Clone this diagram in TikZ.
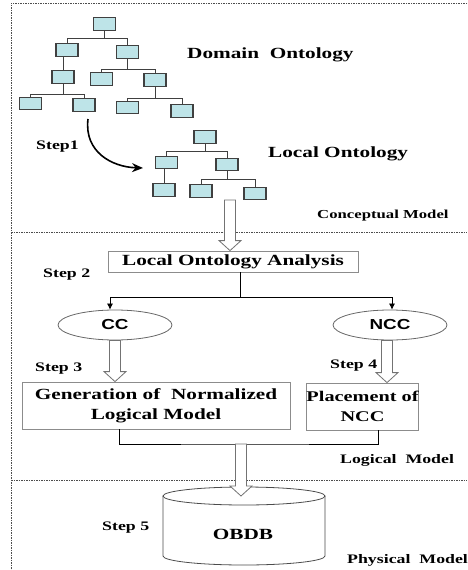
\documentclass[tikz,border=0pt]{standalone}
\usepackage{fontspec}
\setmainfont{Liberation Serif}[FakeStretch=1.37]
\newfontfamily\clsfont{Liberation Sans}[FakeStretch=1.3]
\usetikzlibrary{arrows.meta,positioning,calc,shapes.geometric}

\definecolor{ontofill}{RGB}{190,228,232}
\newcommand{\boxsz}{\fontsize{15.5}{20}\selectfont\bfseries}
\newcommand{\labsz}{\fontsize{13}{15}\selectfont\bfseries}

% hollow block arrow, straight down from #1 to the height of #2
\newcommand{\fatarrow}[2]{%
  \draw[hollow] let \p1=(#1), \p2=(#2) in
    (\x1-5.5pt,\y1) -- (\x1+5.5pt,\y1) -- (\x1+5.5pt,\y2+10pt) -- (\x1+11pt,\y2+10pt)
    -- (\x1,\y2) -- (\x1-11pt,\y2+10pt) -- (\x1-5.5pt,\y2+10pt) -- cycle;}

\begin{document}
\begin{tikzpicture}[
  x=1pt, y=-1pt,
  onto/.style={draw=black!75,line width=1.2pt,fill=ontofill,minimum width=22pt,minimum height=12.5pt,inner sep=0pt},
  tree/.style={draw=black!75,line width=0.7pt},
  frame/.style={draw=black!70,line width=0.6pt,dash pattern=on 1.5pt off 1pt},
  stepbox/.style={draw=black!45,line width=0.8pt,fill=white,align=center,font=\boxsz,inner sep=0pt},
  cls/.style={draw=black!60,line width=0.8pt,ellipse,minimum width=114pt,minimum height=30pt,inner sep=0pt,font=\clsfont\fontsize{14.5}{16}\selectfont\bfseries},
  lbl/.style={font=\labsz,anchor=base west,inner sep=0pt},
  title/.style={font=\boxsz,anchor=base west,inner sep=0pt},
  hollow/.style={draw=black!55,line width=0.8pt,fill=white},
  arr/.style={-{Latex[length=6pt,width=6pt]},line width=0.7pt},
  curv/.style={-{Stealth[length=11pt,width=9pt]},line width=1.6pt}
]
  \useasboundingbox (0,0) rectangle (467,570);

  % dotted frame and model separators
  \draw[frame] (467,3) -- (11,3) -- (11,570);
  \draw[frame] (11,232) -- (467,232);
  \draw[frame] (11,480) -- (467,480);

  % domain ontology tree
  \node[onto] (d0) at (104.5,24) {};
  \node[onto] (d1) at (67,50) {};
  \node[onto] (d2) at (127.5,52) {};
  \node[onto] (d11) at (63,77) {};
  \node[onto] (d21) at (101.5,79) {};
  \node[onto] (d22) at (155,80) {};
  \node[onto] (d111) at (30.5,103.5) {};
  \node[onto] (d112) at (84,105) {};
  \node[onto] (d221) at (127.5,107.5) {};
  \node[onto] (d222) at (182,111) {};
  \draw[tree] (d0.south) -- ++(0,7.5) -| (d1.north);
  \draw[tree] (d0.south) -- ++(0,7.5) -| (d2.north);
  \draw[tree] (d11.north) -- (d11.north |- d1.south);
  \draw[tree] (d2.south) -- ++(0,10) -| (d21.north);
  \draw[tree] (d2.south) -- ++(0,10) -| (d22.north);
  \draw[tree] (d11.south) -- ++(0,10) -| (d111.north);
  \draw[tree] (d11.south) -- ++(0,10) -| (d112.north);
  \draw[tree] (d22.south) -- ++(0,11) -| (d221.north);
  \draw[tree] (d22.south) -- ++(0,11) -| (d222.north);
  \node[title] (domain) at (187,58) {Domain\ \ Ontology};

  % local ontology tree
  \node[onto] (l0) at (205,137) {};
  \node[onto] (l1) at (166.5,162.5) {};
  \node[onto] (l2) at (227,164.5) {};
  \node[onto] (l11) at (164,190) {};
  \node[onto] (l21) at (201,191) {};
  \node[onto] (l22) at (255,193.5) {};
  \draw[tree] (l0.south) -- ++(0,7) -| (l1.north);
  \draw[tree] (l0.south) -- ++(0,7) -| (l2.north);
  \draw[tree] (l11.north) -- (l11.north |- l1.south);
  \draw[tree] (l2.south) -- ++(0,8) -| (l21.north);
  \draw[tree] (l2.south) -- ++(0,8) -| (l22.north);
  \node[title] (local) at (268,157) {Local Ontology};

  % step 1
  \coordinate (s1a) at (88,119);
  \coordinate (s1b) at (143,168);
  \draw[curv] (s1a) .. controls (84,152) and (112,167) .. (s1b);
  \node[lbl] (step1) at (36,149) {Step1};
  \node[lbl,font=\fontsize{12.2}{14}\selectfont\bfseries] (concept) at (317,218) {Conceptual Model};

  % logical model
  \node[stepbox,minimum width=250pt,minimum height=21pt] (ana) at (233,261.5) {Local Ontology Analysis};
  \node[lbl] (step2) at (43,277) {Step 2};
  \coordinate (h1) at (230,200);
  \fatarrow{h1}{ana.north}

  \node[cls] (cc) at (115,325) {CC};
  \node[cls] (ncc) at (390,325) {NCC};
  \draw[line width=0.7pt] ([xshift=7pt]ana.south) -- ++(0,25) coordinate (split);
  \draw[arr] (split) -| ([xshift=-5pt]cc.north);
  \draw[arr] (split) -| ([xshift=2pt]ncc.north);

  \node[stepbox,minimum width=268pt,minimum height=47pt] (gen) at (156,405.5) {Generation of\ \ Normalized\\Logical Model};
  \node[stepbox,minimum width=109pt,minimum height=47pt,font=\fontsize{14.8}{20}\selectfont\bfseries] (place) at (362.5,406.5) {Placement of\\NCC};
  \fatarrow{cc.south}{gen.north}
  \fatarrow{[xshift=-3pt]ncc.south}{place.north}
  \node[lbl] (step3) at (35,371) {Step 3};
  \node[lbl] (step4) at (330,368) {Step 4};

  \coordinate (join) at (241,444);
  \draw[line width=0.7pt] ([xshift=-37pt]gen.south) |- (join) -| ([xshift=15.5pt]place.south);
  \node[lbl] (logical) at (340,463) {Logical\ \ Model};

  % physical model
  \coordinate (dbtop) at (244,496);
  \draw[draw=black!70,line width=0.8pt,fill=white] (163,496) -- (163,556)
    arc[start angle=180,end angle=360,x radius=81pt,y radius=9pt] -- (325,496);
  \draw[draw=black!70,line width=0.8pt,fill=white] (dbtop) ellipse[x radius=81pt,y radius=9pt];
  \fatarrow{join}{dbtop}
  \node[font=\boxsz,inner sep=0pt] (db) at (243,534) {OBDB};
  \node[lbl] (step5) at (102,530) {Step 5};
  \node[lbl] (physical) at (347,563) {Physical\ \ Model};
\end{tikzpicture}
\end{document}
